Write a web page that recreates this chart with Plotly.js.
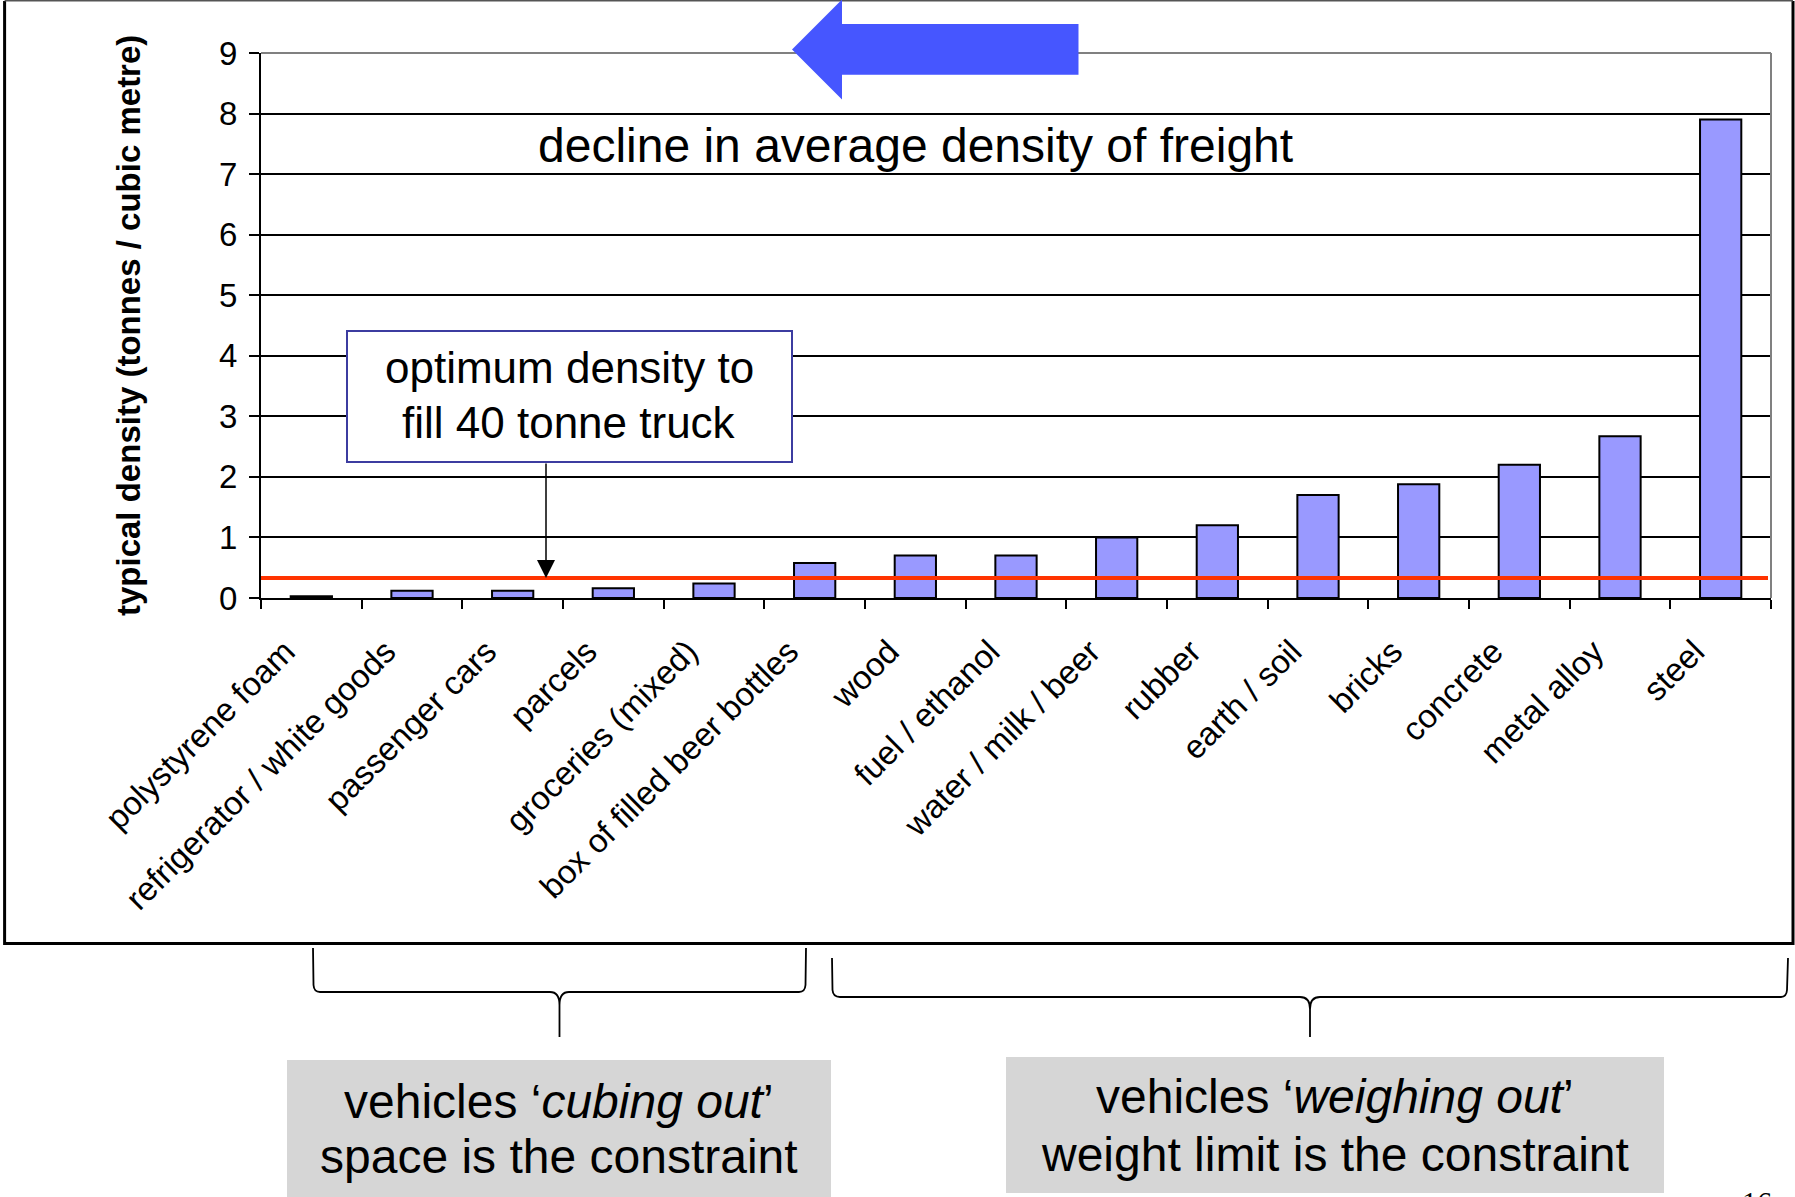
<!DOCTYPE html>
<html>
<head>
<meta charset="utf-8">
<script src="https://cdn.plot.ly/plotly-3.0.1.min.js"></script>
<style>
  html, body { margin: 0; padding: 0; background: #ffffff; }
  #chart { width: 1795px; height: 1197px; }
</style>
</head>
<body>
<div id="chart"></div>
<script>
// Freight categories and their typical density (tonnes per cubic metre)
const categories = [
  'polystyrene foam', 'refrigerator / white goods', 'passenger cars', 'parcels',
  'groceries (mixed)', 'box of filled beer bottles', 'wood', 'fuel / ethanol',
  'water / milk / beer', 'rubber', 'earth / soil', 'bricks', 'concrete',
  'metal alloy', 'steel'
];
const densities = [0.03, 0.12, 0.12, 0.16, 0.24, 0.58, 0.70, 0.70, 1.00, 1.20, 1.70, 1.88, 2.20, 2.67, 7.90];

// density at which a 40 tonne truck is full by weight and by volume at once
const optimumDensity = 0.33;

const yTickValues = [0, 1, 2, 3, 4, 5, 6, 7, 8, 9];
const yTickLabels = ['0', '1', '2', '3', '4', '5', '6', '7', '8', '9'];

const yAxisTitle = 'typical density (tonnes / cubic metre)';
const trendText = 'decline in average density of freight';
const optimumLines = ['optimum density to', 'fill 40 tonne truck'];
const cubingLines = ['vehicles \u2018<i>cubing out</i>\u2019', 'space is the constraint'];
const weighingLines = ['vehicles \u2018<i>weighing out</i>\u2019', 'weight limit is the constraint'];
const pageNumber = '16';

// ---- page geometry (pixels) ----
const W = 1795, H = 1197;
const PL = 261, PR = 1771, PT = 53, PB = 598;
const FONT = 'Liberation Sans, Arial, Helvetica, sans-serif';

function fx(x) { return (x - PL) / (PR - PL); }
function fy(y) { return (PB - y) / (PB - PT); }
function pt(x, y) { return fx(x).toFixed(5) + ',' + fy(y).toFixed(5); }
function path(cmds) {
  // cmds: array of [letter, x1, y1, (x2, y2)] in page pixels
  return cmds.map(c => {
    if (c[0] === 'Z') return 'Z';
    if (c.length === 5) return c[0] + pt(c[1], c[2]) + ' ' + pt(c[3], c[4]);
    return c[0] + pt(c[1], c[2]);
  }).join(' ');
}

const barTrace = {
  type: 'bar',
  x: categories,
  y: densities,
  width: 0.41,
  marker: { color: '#9999ff', line: { color: '#000000', width: 2 } },
  hoverinfo: 'x+y',
  showlegend: false
};

const shapes = [];

// outer frame of the slide graphic
shapes.push({ type: 'path', xref: 'paper', yref: 'paper', layer: 'above',
  path: path([['M', 4.6, 1], ['L', 4.6, 943.5], ['L', 1793, 943.5], ['L', 1793, 1]]),
  line: { color: '#000000', width: 3 } });
shapes.push({ type: 'line', xref: 'paper', yref: 'paper', layer: 'above',
  x0: fx(4.6), x1: fx(1793), y0: fy(0.8), y1: fy(0.8),
  line: { color: '#555555', width: 1.5 } });

// grey plot-area border on top and right
shapes.push({ type: 'line', xref: 'paper', yref: 'paper', layer: 'above',
  x0: 0, x1: 1, y0: 1, y1: 1, line: { color: '#808080', width: 2 } });
shapes.push({ type: 'line', xref: 'paper', yref: 'paper', layer: 'above',
  x0: 1, x1: 1, y0: 0, y1: 1, line: { color: '#808080', width: 2 } });

// optimum density reference line
shapes.push({ type: 'line', xref: 'paper', yref: 'y', layer: 'above',
  x0: 0, x1: fx(1768), y0: optimumDensity, y1: optimumDensity,
  line: { color: '#ff3300', width: 4 } });

// callout box
shapes.push({ type: 'rect', xref: 'paper', yref: 'paper', layer: 'above',
  x0: fx(347), x1: fx(792), y0: fy(462), y1: fy(331),
  fillcolor: '#ffffff', line: { color: '#3c3ca0', width: 2 } });

// big blue arrow pointing left
shapes.push({ type: 'path', xref: 'paper', yref: 'paper', layer: 'above',
  path: path([['M', 792, 49.5], ['L', 842, -0.5], ['L', 842, 24], ['L', 1078.5, 24],
              ['L', 1078.5, 74.8], ['L', 842, 74.8], ['L', 842, 99.5], ['Z']]),
  fillcolor: '#4656ff', line: { width: 0 } });

// braces under the chart
shapes.push({ type: 'path', xref: 'paper', yref: 'paper', layer: 'above',
  path: path([['M', 313, 948], ['L', 313.5, 985], ['Q', 314, 992, 320, 992], ['L', 550, 992],
              ['Q', 559.5, 992, 559.5, 1005], ['L', 559.5, 1037],
              ['M', 559.5, 1005], ['Q', 559.5, 992, 569, 992], ['L', 799, 992],
              ['Q', 805, 992, 805.5, 985], ['L', 806, 948]]),
  line: { color: '#000000', width: 1.8 } });
shapes.push({ type: 'path', xref: 'paper', yref: 'paper', layer: 'above',
  path: path([['M', 832, 958], ['L', 832.5, 990], ['Q', 833, 997, 840, 997], ['L', 1300, 997],
              ['Q', 1310, 997, 1310, 1009], ['L', 1310, 1037],
              ['M', 1310, 1009], ['Q', 1310, 997, 1320, 997], ['L', 1781, 997],
              ['Q', 1786.5, 997, 1787, 990], ['L', 1788, 958]]),
  line: { color: '#000000', width: 1.8 } });

// grey explanation boxes
shapes.push({ type: 'rect', xref: 'paper', yref: 'paper', layer: 'above',
  x0: fx(287), x1: fx(831), y0: fy(1200), y1: fy(1060),
  fillcolor: '#d6d6d6', line: { width: 0 } });
shapes.push({ type: 'rect', xref: 'paper', yref: 'paper', layer: 'above',
  x0: fx(1006), x1: fx(1664), y0: fy(1193), y1: fy(1057),
  fillcolor: '#d6d6d6', line: { width: 0 } });

function textAt(text, x, yCenter, size, extra) {
  return Object.assign({
    xref: 'paper', yref: 'paper', x: fx(x), y: fy(yCenter),
    xanchor: 'center', yanchor: 'middle', showarrow: false, text: text,
    font: { family: FONT, size: size, color: '#000000' }
  }, extra || {});
}

const annotations = [
  textAt(trendText, 915, 145, 48),
  textAt(optimumLines[0], 569, 367.5, 44),
  textAt(optimumLines[1], 569, 422.5, 44),
  textAt('<b>' + yAxisTitle + '</b>', 128, 326, 33, { textangle: -90 }),
  textAt(cubingLines[0], 559, 1101, 48),
  textAt(cubingLines[1], 559, 1156, 48),
  textAt(weighingLines[0], 1335, 1096, 48),
  textAt(weighingLines[1], 1335, 1154, 48),
  textAt(pageNumber, 1757, 1201, 30, { font: { family: 'Liberation Serif, Times New Roman, serif', size: 30, color: '#000000' } }),
  {
    xref: 'paper', yref: 'y', x: fx(546), y: optimumDensity,
    ax: 0, ay: -((PB - optimumDensity * (PB - PT) / 9) - 462),
    text: '', showarrow: true, arrowhead: 2, arrowsize: 2.4, arrowwidth: 1.5,
    arrowcolor: '#000000', standoff: 0
  }
];

const layout = {
  width: W, height: H,
  margin: { l: PL, r: W - PR, t: PT, b: H - PB, pad: 0 },
  paper_bgcolor: '#ffffff', plot_bgcolor: '#ffffff',
  showlegend: false,
  font: { family: FONT, color: '#000000' },
  xaxis: {
    type: 'category', dtick: 1,
    showline: true, linecolor: '#000000', linewidth: 2,
    ticks: 'outside', tickson: 'boundaries', ticklen: 9, tickwidth: 2, tickcolor: '#000000',
    tickangle: -45, tickfont: { family: FONT, size: 33, color: '#000000' },
    ticklabelstandoff: 19, ticklabelshift: -26,
    showgrid: false, zeroline: false, fixedrange: true
  },
  yaxis: {
    range: [0, 9], tickmode: 'array', tickvals: yTickValues, ticktext: yTickLabels,
    showline: true, linecolor: '#000000', linewidth: 2,
    ticks: 'outside', ticklen: 10, tickwidth: 2, tickcolor: '#000000',
    tickfont: { family: FONT, size: 33, color: '#000000' },
    ticklabelstandoff: 5,
    showgrid: true, gridcolor: '#000000', gridwidth: 2,
    zeroline: false, fixedrange: true
  },
  shapes: shapes,
  annotations: annotations
};

Plotly.newPlot('chart', [barTrace], layout, { displayModeBar: false, staticPlot: true });
</script>
</body>
</html>
